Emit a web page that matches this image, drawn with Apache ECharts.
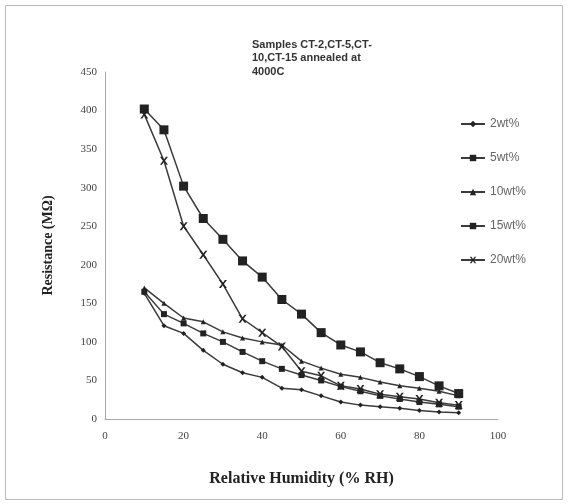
<!DOCTYPE html>
<html>
<head>
<meta charset="utf-8">
<script src="https://cdn.jsdelivr.net/npm/echarts@6/dist/echarts.min.js"></script>
<style>
  html, body { margin: 0; padding: 0; background: #fff; }
  #chart { width: 569px; height: 504px; }
</style>
</head>
<body>
<div id="chart"></div>
<script>
// relative humidity (% RH)
const humidity = [10, 15, 20, 25, 30, 35, 40, 45, 50, 55, 60, 65, 70, 75, 80, 85, 90]

// resistance (MΩ) per sample
const wt2 = [163, 121, 111, 89, 71, 60, 54, 40, 38, 30, 22, 18, 16, 14, 11, 9, 8]
const wt5 = [165, 136, 124, 111, 100, 87, 75, 65, 57, 50, 42, 36, 30, 26, 22, 19, 16]
const wt10 = [170, 150, 131, 126, 113, 105, 100, 96, 75, 66, 58, 54, 48, 43, 40, 36, 30]
const wt15 = [402, 375, 302, 260, 233, 205, 184, 155, 136, 112, 96, 87, 73, 65, 55, 43, 33]
const wt20 = [395, 335, 250, 213, 175, 130, 112, 94, 62, 56, 43, 39, 32, 29, 26, 21, 18]

const seriesNames = ['2wt%', '5wt%', '10wt%', '15wt%', '20wt%']
const xTicks = [0, 20, 40, 60, 80, 100]
const yTicks = [0, 50, 100, 150, 200, 250, 300, 350, 400, 450]

const crossSymbol = 'path://M0,0L2.5,0L5,3.5L7.5,0L10,0L6.3,5L10,10L7.5,10L5,6.5L2.5,10L0,10L3.7,5Z'

const chart = echarts.init(document.getElementById('chart'))

const makeSeries = (name, values, symbol, size) => ({
  name: name,
  type: 'line',
  data: humidity.map((h, i) => [h, values[i]]),
  symbol: symbol,
  symbolSize: size,
  lineStyle: { color: '#3a3a3a', width: 1.5 },
  itemStyle: { color: '#222' },
  emphasis: { disabled: true },
  z: 3
})

chart.setOption({
  animation: false,
  backgroundColor: '#fff',
  title: {
    text: 'Samples CT-2,CT-5,CT-\n10,CT-15 annealed at\n4000C',
    left: 247,
    top: 33,
    textStyle: {
      fontFamily: 'Liberation Sans',
      fontWeight: 'bold',
      fontSize: 11,
      lineHeight: 13.5,
      color: '#333'
    }
  },
  legend: {
    orient: 'vertical',
    left: 455,
    top: 113,
    itemGap: 22,
    itemWidth: 24,
    itemHeight: 8,
    data: seriesNames,
    textStyle: { fontFamily: 'Liberation Sans', fontSize: 12, color: '#666' }
  },
  grid: { left: 105, right: 71, top: 72, bottom: 85 },
  xAxis: {
    type: 'value',
    min: 0,
    max: 100,
    interval: 20,
    name: 'Relative Humidity (% RH)',
    nameLocation: 'middle',
    nameGap: 52,
    nameTextStyle: { fontFamily: 'Liberation Serif', fontWeight: 'bold', fontSize: 16, color: '#222' },
    axisLine: { lineStyle: { color: '#aaa' } },
    axisTick: { show: false },
    splitLine: { show: false },
    axisLabel: { fontFamily: 'Liberation Serif', fontSize: 11, color: '#444', margin: 12,
      formatter: v => xTicks.includes(v) ? String(v) : '' }
  },
  yAxis: {
    type: 'value',
    min: 0,
    max: 450,
    interval: 50,
    name: 'Resistance (MΩ)',
    nameLocation: 'middle',
    nameGap: 50,
    nameTextStyle: { fontFamily: 'Liberation Serif', fontWeight: 'bold', fontSize: 14, color: '#222' },
    axisLine: { show: true, lineStyle: { color: '#aaa' } },
    axisTick: { show: false },
    splitLine: { show: false },
    axisLabel: { fontFamily: 'Liberation Serif', fontSize: 11, color: '#444', margin: 8,
      formatter: v => yTicks.includes(v) ? String(v) : '' }
  },
  graphic: [{
    type: 'rect',
    shape: { x: 5.5, y: 5.5, width: 557, height: 494 },
    style: { fill: null, stroke: '#bbb', lineWidth: 1 },
    silent: true
  }],
  series: [
    makeSeries('2wt%', wt2, 'diamond', 5),
    makeSeries('5wt%', wt5, 'rect', 6),
    makeSeries('10wt%', wt10, 'triangle', 5),
    makeSeries('15wt%', wt15, 'rect', 9),
    makeSeries('20wt%', wt20, crossSymbol, 8)
  ]
})
</script>
</body>
</html>
